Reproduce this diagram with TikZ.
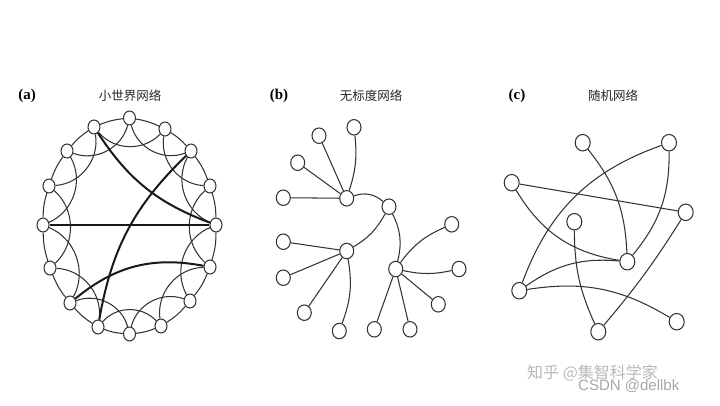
\documentclass[tikz,border=0pt]{standalone}
\usepackage{fontspec}
\setmainfont{Liberation Serif}
\newfontfamily\cjk{Noto Sans CJK SC}
\newfontfamily\wmfont{Liberation Sans}
\usetikzlibrary{shapes.geometric,backgrounds}
\definecolor{linec}{HTML}{333333}
\tikzset{
  netnode/.style={ellipse, draw=linec, fill=white, line width=1.05pt, inner sep=0pt},
  anode/.style={netnode, minimum width=12pt, minimum height=14pt},
  bnode/.style={netnode, minimum width=14pt, minimum height=15.5pt},
  cnode/.style={netnode, minimum width=15pt, minimum height=16.5pt},
  edge/.style={draw=linec, line width=1.05pt},
  thickedge/.style={draw=black!90, line width=2pt},
  panellabel/.style={font=\bfseries\fontsize{15}{15}\selectfont, inner sep=0pt},
  paneltitle/.style={font=\cjk\fontsize{12.5}{13}\selectfont, inner sep=0pt, text=black!85},
  wmark/.style={inner sep=0pt, text=black!28}
}
\begin{document}
\begin{tikzpicture}[x=1pt,y=1pt]
\useasboundingbox (0,0) rectangle (720,-405);

% ---------- titles ----------
\node[panellabel] (la) at (27,-96) {(a)};
\node[paneltitle] (ta) at (130,-96) {小世界网络};
\node[panellabel] (lb) at (279,-96) {(b)};
\node[paneltitle] (tb) at (371,-96) {无标度网络};
\node[panellabel] (lc) at (517,-96) {(c)};
\node[paneltitle] (tc) at (613,-96) {随机网络};

% ---------- (a) small world ----------
\foreach \i/\x/\y in {0/129.5/118, 1/165/129, 2/191/151, 3/210/186, 4/216/225, 5/210/267,
  6/190/301, 7/161/326, 8/129.5/334, 9/98/327, 10/70/303, 11/50/268, 12/43/225,
  13/49/186, 14/67/151, 15/94/127}
  \node[anode] (a\i) at (\x,-\y) {};
\begin{pgfonlayer}{background}
\foreach \i in {0,...,15} {
  \pgfmathtruncatemacro\j{mod(\i+1,16)}
  \pgfmathtruncatemacro\k{mod(\i+2,16)}
  \draw[edge] (a\i) to[bend left=8] (a\j);
  \draw[edge] (a\i) to[bend right=48] (a\k);
}
\draw[thickedge] (a15) to[bend right=18] (a4);
\draw[thickedge] (a12) -- (a4);
\draw[thickedge] (a2) to[bend right=18] (a9);
\draw[thickedge] (a10) to[bend left=25] (a5);
\end{pgfonlayer}

% ---------- (b) scale free ----------
\node[bnode] (h1) at (346.7,-198.3) {};
\node[bnode] (h2) at (389,-206.7) {};
\node[bnode] (h3) at (346.7,-251) {};
\node[bnode] (h4) at (395.7,-269) {};
\node[bnode] (p1) at (283.3,-197.7) {};
\node[bnode] (p2) at (297.7,-162.7) {};
\node[bnode] (p3) at (319,-135.7) {};
\node[bnode] (p4) at (354,-127.3) {};
\node[bnode] (q1) at (283.3,-241.7) {};
\node[bnode] (q2) at (283.3,-277.7) {};
\node[bnode] (q3) at (304.3,-312.7) {};
\node[bnode] (q4) at (339.3,-331) {};
\node[bnode] (r1) at (374.3,-329.3) {};
\node[bnode] (r2) at (410,-329.3) {};
\node[bnode] (r3) at (438.3,-304.3) {};
\node[bnode] (r4) at (459,-269) {};
\node[bnode] (r5) at (451.7,-224.3) {};
\begin{pgfonlayer}{background}
\draw[edge] (h1) to[bend left=30] (h2);
\draw[edge] (h2) to[bend left=15] (h3);
\draw[edge] (h2) to[bend left=20] (h4);
\draw[edge] (h1) -- (p1);
\draw[edge] (h1) -- (p2);
\draw[edge] (h1) -- (p3);
\draw[edge] (h1) to[bend right=12] (p4);
\draw[edge] (h3) -- (q1);
\draw[edge] (h3) -- (q2);
\draw[edge] (h3) -- (q3);
\draw[edge] (h3) to[bend left=15] (q4);
\draw[edge] (h4) -- (r1);
\draw[edge] (h4) -- (r2);
\draw[edge] (h4) -- (r3);
\draw[edge] (h4) to[bend right=12] (r4);
\draw[edge] (h4) to[bend left=15] (r5);
\end{pgfonlayer}

% ---------- (c) random ----------
\node[cnode] (cA) at (582.7,-142.7) {};
\node[cnode] (cB) at (669,-142.7) {};
\node[cnode] (cC) at (511.7,-182.7) {};
\node[cnode] (cD) at (685.7,-212.3) {};
\node[cnode] (cE) at (574.3,-221.7) {};
\node[cnode] (cF) at (627.3,-261.7) {};
\node[cnode] (cG) at (519.3,-290.7) {};
\node[cnode] (cH) at (676.7,-321.7) {};
\node[cnode] (cI) at (598.3,-331.7) {};
\begin{pgfonlayer}{background}
\draw[edge] (cA) to[bend left=18] (cF);
\draw[edge] (cB) to[bend left=20] (cF);
\draw[edge] (cB) to[bend right=25] (cG);
\draw[edge] (cC) -- (cD);
\draw[edge] (cC) to[bend right=25] (cF);
\draw[edge] (cE) to[bend right=12] (cI);
\draw[edge] (cG) to[bend left=20] (cF);
\draw[edge] (cG) to[bend left=20] (cH);
\draw[edge] (cD) to[bend left=4] (cI);
\end{pgfonlayer}

% ---------- watermarks ----------
\node[wmark, anchor=west, font=\cjk\fontsize{16}{16}\selectfont] (wm1) at (527,-373) {知乎 @集智科学家};
\node[wmark, anchor=west, font=\wmfont\fontsize{15}{15}\selectfont, text=black!35] (wm2) at (578,-386) {CSDN @dellbk};
\end{tikzpicture}
\end{document}
